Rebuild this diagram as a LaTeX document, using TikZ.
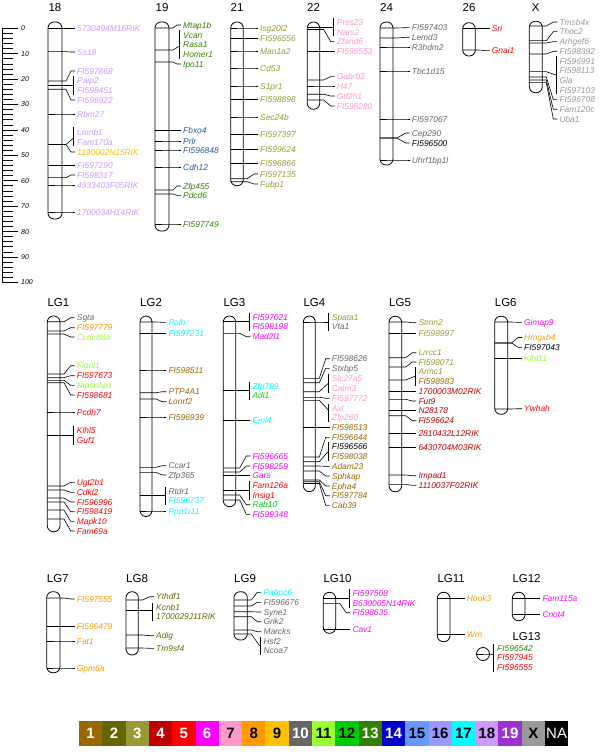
\documentclass[tikz,border=0pt]{standalone}
\usepackage{fontspec}
\setmainfont{Liberation Sans}
\definecolor{c1}{RGB}{153,102,0}
\definecolor{c2}{RGB}{102,102,0}
\definecolor{c3}{RGB}{153,153,51}
\definecolor{c4}{RGB}{192,0,0}
\definecolor{c5}{RGB}{255,0,0}
\definecolor{c6}{RGB}{255,0,255}
\definecolor{c7}{RGB}{255,153,204}
\definecolor{c8}{RGB}{255,153,0}
\definecolor{c9}{RGB}{255,192,0}
\definecolor{c10}{RGB}{102,102,102}
\definecolor{c11}{RGB}{153,255,51}
\definecolor{c12}{RGB}{0,204,0}
\definecolor{c13}{RGB}{51,128,0}
\definecolor{c14}{RGB}{0,0,204}
\definecolor{c15}{RGB}{102,153,255}
\definecolor{c16}{RGB}{153,153,255}
\definecolor{c17}{RGB}{0,255,255}
\definecolor{c18}{RGB}{204,153,255}
\definecolor{c19}{RGB}{153,51,204}
\definecolor{cX}{RGB}{153,153,153}
\definecolor{cNA}{RGB}{0,0,0}
\definecolor{cB}{RGB}{40,90,160}
\newcounter{grp}
\newcommand\setc[3]{\def\cxl{#1}\def\cxr{#2}\def\clx{#3}\pgfmathsetmacro\cbx{#3-3.5}}
\newcommand\mkr[4]{%
 \node[lab,text=#3] (#4) at (\clx,#2) {#4};
 \coordinate (#4-l) at (\cxl,#1);
 \coordinate (#4-r) at (\cxr,#1);
 \draw[mline] (#4-l) -- (#4-r) -- ++(4,0) -- ([xshift=-6pt]#4.west) -- ([xshift=-2pt]#4.west);}
\newcommand\mkg[4]{%
 \stepcounter{grp}%
 \coordinate (g\thegrp-l) at (\cxl,#1);
 \coordinate (g\thegrp-r) at (\cxr,#1);
 \coordinate (g\thegrp-j) at (\cbx,#2);
 \coordinate (g\thegrp-t) at (\cbx,{#3-4.5});
 \coordinate (g\thegrp-b) at (\cbx,{#4+4.5});
 \draw[mline] (g\thegrp-l) -- (g\thegrp-r) -- ++(4,0) -- (g\thegrp-j);
 \draw[mline] (g\thegrp-t) -- (g\thegrp-b);}
\newcommand\glab[3]{\node[lab,text=#2] (#3) at (\clx,#1) {#3};}
\begin{document}
\begin{tikzpicture}[x=1pt,y=-1pt,
 chr/.style={draw=black,line width=0.8pt,rounded corners=6pt,fill=white},
 mline/.style={draw=black,line width=0.6pt},
 sc/.style={draw=black,line width=0.6pt},
 lab/.style={anchor=west,inner sep=0pt,text height=6.1pt,text depth=0pt,font=\fontsize{8.4}{10}\selectfont\itshape},
 ttl/.style={inner sep=0pt,text height=8.3pt,text depth=0pt,font=\fontsize{11.5}{13}\selectfont},
 scl/.style={anchor=west,inner sep=0pt,text height=5pt,text depth=0pt,font=\fontsize{7}{8}\selectfont\itshape},
 legbox/.style={minimum width=23.3pt,minimum height=25pt,inner sep=0pt,font=\fontsize{15}{16}\selectfont\bfseries}]
\useasboundingbox[fill=white] (0,0) rectangle (600,754);
% scale
\draw[sc] (2,28.3) -- (2,282.3);
\foreach \k in {0,...,50} {\draw[sc] (2,{28.3+5.08*\k}) -- (13,{28.3+5.08*\k});}
\foreach \k/\v in {0/0,1/10,2/20,3/30,4/40,5/50,6/60,7/70,8/80,9/90,10/100} {
 \draw[sc] (2,{28.3+25.4*\k}) -- (18,{28.3+25.4*\k});
 \node[scl] (s\k) at (21,{28.3+25.4*\k}) {\v};}
% titles
\node[ttl] (t18) at (55,7.5) {18};
\node[ttl] (t19) at (162,7.5) {19};
\node[ttl] (t21) at (237,7.5) {21};
\node[ttl] (t22) at (313.5,7.5) {22};
\node[ttl] (t24) at (386.5,7.5) {24};
\node[ttl] (t26) at (469,7.5) {26};
\node[ttl] (tX) at (535.8,7.5) {X};
\foreach \n/\x/\y in {LG1/47.3/302.7,LG2/140/302.7,LG3/223.3/302.7,LG4/303.3/302.7,LG5/389/302.7,LG6/494.7/302.7,LG7/46.7/578.3,LG8/126/578.3,LG9/234/578.3,LG10/323.3/578.3,LG11/437.3/578.3,LG12/512.3/578.3,LG13/512.3/636}
 {\node[ttl,anchor=west] (t\n) at (\x,\y) {\n};}
% chromosomes
\draw[chr] (48,22) rectangle (62,219);
\draw[chr] (155,22) rectangle (169,231);
\draw[chr] (230.7,22) rectangle (243.3,185.7);
\draw[chr] (307.3,22) rectangle (319.7,109.3);
\draw[chr] (380,22) rectangle (393,165);
\draw[chr] (462.7,22.7) rectangle (475.3,56);
\draw[chr] (529.3,21.3) rectangle (542.3,92.7);
\draw[chr] (47.3,316) rectangle (60,531.7);
\draw[chr] (140,316) rectangle (152,516.5);
\draw[chr] (223.3,316) rectangle (235.7,506.7);
\draw[chr] (303.3,316) rectangle (315.3,491.7);
\draw[chr] (389,316.3) rectangle (401.7,491.7);
\draw[chr] (494.7,316.3) rectangle (507.7,414.3);
\draw[chr] (46.7,591.7) rectangle (60,672.7);
\draw[chr] (126,591.7) rectangle (138.3,655);
\draw[chr] (234,591.7) rectangle (247.3,640);
\draw[chr] (323.3,592.3) rectangle (335.7,633.3);
\draw[chr] (437.3,592.3) rectangle (450,641.7);
\draw[chr] (512.3,592.3) rectangle (525,620.7);
\draw[chr,rounded corners=0pt] (483,654) circle[radius=6.5pt];
% chr 18
\setc{48}{62}{77}
\mkr{28.3}{28.3}{c18}{5730494M16RIK}
\mkr{51.7}{52}{c18}{Ss18}
\mkr{81}{71}{c18}{FI597868}
\mkg{85.3}{85.3}{80.7}{90.3}\glab{80.7}{c18}{Paip2}\glab{90.3}{c18}{FI598451}
\mkr{89.3}{100}{c18}{FI596922}
\mkr{114}{114}{c18}{Rbm27}
\mkg{144.5}{138}{132}{142}\glab{132}{c18}{Lmnb1}\glab{142}{c18}{Fam170a}
\mkr{144.5}{152}{c9}{1190002N15RIK}
\mkr{165.7}{165.7}{c18}{FI597290}
\mkr{177.7}{175}{c18}{FI598317}
\mkr{185}{185}{c18}{4933403F05RIK}
\mkr{212}{212}{c18}{1700034H14RIK}
% chr 19
\setc{155}{169}{183}
\mkr{28}{25}{c13}{Mtap1b}
\mkg{50}{46}{35}{54.3}\glab{35}{c13}{Vcan}\glab{44.7}{c13}{Rasa1}\glab{54.3}{c13}{Homer1}
\mkr{62}{64}{c13}{Ipo11}
\mkr{130.7}{130.7}{cB}{Fbxo4}
\mkr{141}{141}{cB}{Prlr}
\mkr{150}{150}{cB}{FI596848}
\mkr{167}{167}{cB}{Cdh12}
\mkr{190}{186}{c13}{Zfp455}
\mkr{194}{195.3}{c13}{Pdcd6}
\mkr{224}{224}{c13}{FI597749}
% chr 21
\setc{230.7}{243.3}{260}
\mkr{28}{28}{c3}{Isg20l2}
\mkr{38.7}{38.7}{c3}{FI596556}
\mkr{51}{51}{c3}{Man1a2}
\mkr{68}{68}{c3}{Cd53}
\mkr{86}{86}{c3}{S1pr1}
\mkr{99.7}{99.7}{c3}{FI598898}
\mkr{117}{117}{c3}{Sec24b}
\mkr{134.7}{134.7}{c3}{FI597397}
\mkr{149.7}{149.7}{c3}{FI599624}
\mkr{163.7}{163.7}{c3}{FI596866}
\mkr{178.7}{174}{c3}{FI597135}
\mkr{181.7}{184}{c3}{Fubp1}
% chr 22
\setc{307.3}{319.7}{336.7}
\mkg{27.7}{27.7}{22.7}{32}\glab{22.7}{c7}{Prss23}\glab{32}{c7}{Nars2}
\mkr{29.5}{41.7}{c7}{Zfand6}
\mkr{51.7}{51.7}{c7}{FI598553}
\mkr{80}{76.7}{c7}{Gabrb3}
\mkr{86}{86}{c7}{H47}
\mkr{94.3}{96}{c7}{Gtf2h1}
\mkr{100}{106}{c7}{FI598280}
% chr 24
\setc{380}{393}{411.7}
\mkr{28}{27.7}{c10}{FI597403}
\mkr{38}{37.3}{c10}{Lemd3}
\mkr{47}{47}{c10}{R3hdm2}
\mkr{71}{71}{c10}{Tbc1d15}
\mkr{119}{119}{c10}{FI597067}
\mkr{138}{133}{c10}{Cep290}
\mkr{138}{143}{cNA}{FI596500}
\mkr{160}{160}{c10}{Uhrf1bp1l}
% chr 26
\setc{462.7}{475.3}{491.7}
\mkr{28.7}{28.7}{c5}{Sri}
\mkr{50}{50.7}{c5}{Gnai1}
% chr X
\setc{529.3}{542.3}{559.3}
\mkr{26}{22}{cX}{Tmsb4x}
\mkr{40.7}{31.7}{cX}{Thoc2}
\mkr{43}{41.7}{cX}{Arhgef6}
\mkr{54}{51.3}{cX}{FI598392}
\mkg{71.7}{75}{61}{90}\glab{61}{cX}{FI596991}\glab{70.7}{cX}{FI598113}\glab{80.3}{cX}{Gla}\glab{90}{cX}{FI597103}
\mkr{77}{99.7}{cX}{FI596708}
\mkr{80}{109.3}{cX}{Fam120c}
\mkr{82.7}{119}{cX}{Uba1}
% LG1
\setc{47.3}{60}{76.7}
\mkr{321.7}{317.7}{c10}{Sgta}
\mkr{331}{327.7}{c8}{FI597779}
\mkr{334}{337}{c11}{Ccdc88a}
\mkr{374}{365.7}{c11}{Fignl1}
\mkr{377.7}{375.7}{c5}{FI597673}
\mkr{380.3}{385.3}{c11}{Nipsnap1}
\mkr{382.7}{395}{c5}{FI598681}
\mkr{412}{412}{c5}{Pcdh7}
\mkg{435.7}{435.7}{430}{440}\glab{430}{c5}{Klhl5}\glab{440}{c5}{Guf1}
\mkr{486}{482.3}{c5}{Ugt2b1}
\mkr{490}{492.3}{c5}{Cdkl2}
\mkr{498}{502}{c5}{FI596996}
\mkr{502}{511.7}{c5}{FI598419}
\mkr{510}{521.3}{c5}{Mapk10}
\mkr{519}{531}{c5}{Fam69a}
% LG2
\setc{140}{152}{168.3}
\mkr{322}{322.3}{c17}{Polh}
\mkr{333.7}{333.7}{c17}{FI597231}
\mkr{370}{370}{c1}{FI598511}
\mkr{392.7}{391.7}{c1}{PTP4A1}
\mkr{399}{401.7}{c1}{Lonrf2}
\mkr{417}{417}{c1}{FI596939}
\mkr{467.3}{465.7}{c10}{Ccar1}
\mkr{472.3}{475}{c10}{Zfp365}
\mkg{495.7}{495.7}{491.3}{500.5}\glab{491.3}{c10}{Rtdr1}\glab{500.5}{c17}{FI596737}
\mkr{511}{511}{c17}{Ppp1r11}
% LG3
\setc{223.3}{235.7}{252.3}
\mkg{321.7}{321.7}{317}{326.7}\glab{317}{c6}{FI597021}\glab{326.7}{c6}{FI598198}
\mkr{333.3}{336.7}{c6}{Mad2l1}
\mkg{390.3}{390.3}{386}{395.7}\glab{386}{c17}{Zfp799}\glab{395.7}{c12}{Adi1}
\mkr{420.7}{420.7}{c17}{Eml4}
\mkr{468}{456}{c6}{FI596665}
\mkr{472}{466}{c6}{FI598259}
\mkr{475.7}{475.7}{c6}{Gars}
\mkg{490.3}{490.3}{485.3}{495}\glab{485.3}{c5}{Fam126a}\glab{495}{c5}{Insig1}
\mkr{495}{504.7}{c12}{Rab10}
\mkr{500}{514.3}{c6}{FI599348}
% LG4
\setc{303.3}{315.3}{331.7}
\mkg{322}{322}{317.7}{326.7}\glab{317.7}{c3}{Spata1}\glab{326.7}{c10}{Vta1}
\mkr{378.3}{358.7}{c10}{FI598626}
\mkr{382.7}{368.3}{c10}{Stxbp5}
\mkg{391.7}{383.3}{378.3}{388.3}\glab{378.3}{c7}{Slc27a5}\glab{388.3}{c7}{Calm3}
\mkr{397.3}{398.3}{c7}{FI597772}
\mkg{400.3}{410}{408}{417.7}\glab{408}{c7}{Axl}\glab{417.7}{c7}{Zfp260}
\mkr{427.7}{427.7}{c1}{FI598513}
\mkr{457}{437.3}{c1}{FI596644}
\mkg{461.7}{451.5}{446.7}{456.3}\glab{446.7}{cNA}{FI596566}\glab{456.3}{c1}{FI598038}
\mkr{466}{466.3}{c1}{Adam23}
\mkr{471}{476}{c1}{Sphkap}
\mkr{480}{486}{c1}{Epha4}
\mkr{481.7}{495.7}{c1}{FI597784}
\mkr{483.5}{505.3}{c1}{Cab39}
% LG5
\setc{389}{401.7}{418.3}
\mkr{322}{322.7}{c3}{Stmn2}
\mkr{333.3}{333.3}{c3}{FI598997}
\mkr{357.7}{352.7}{c3}{Lrrcc1}
\mkr{367}{362}{c3}{FI598071}
\mkg{380}{376.3}{371.7}{381}\glab{371.7}{c3}{Armc1}\glab{381}{c1}{FI598983}
\mkr{391.7}{391.7}{c4}{1700003M02RIK}
\mkr{399.3}{401}{c4}{Fut9}
\mkr{410.7}{410.7}{c4}{N28178}
\mkr{415.7}{420.7}{c4}{FI596624}
\mkr{433.7}{433.7}{c4}{2810432L12RIK}
\mkr{447.3}{447.3}{c4}{6430704M03RIK}
\mkr{475}{475.7}{c4}{Impad1}
\mkr{484.3}{485.3}{c4}{1110037F02RIK}
% LG6
\setc{494.7}{507.7}{524}
\mkr{322}{322.3}{c6}{Gimap9}
\mkr{343}{337.5}{c8}{Hmgxb4}
\mkr{343}{347.3}{cNA}{FI597043}
\mkr{358.7}{358.7}{c11}{Klhl11}
\mkr{409}{408.7}{c5}{Ywhah}
% LG7
\setc{46.7}{60}{76.7}
\mkr{598}{599}{c8}{FI597555}
\mkr{626.7}{626.7}{c8}{FI596479}
\mkr{641}{641}{c8}{Fat1}
\mkr{668}{668}{c8}{Gpm6a}
% LG8
\setc{126}{138.3}{156}
\mkr{600}{596.7}{c2}{Ythdf1}
\mkg{610.7}{610.7}{607}{616.7}\glab{607}{c2}{Kcnb1}\glab{616.7}{c2}{1700029J11RIK}
\mkr{635}{635.7}{c2}{Adig}
\mkr{648}{648.3}{c2}{Tm9sf4}
% LG9
\setc{234}{247.3}{263.3}
\mkr{600}{592.3}{c17}{Pabpc6}
\mkr{606}{602.3}{c10}{FI596676}
\mkr{611.7}{612}{c10}{Syne1}
\mkr{616.7}{621.7}{c10}{Grik2}
\mkr{630}{631.7}{c10}{Marcks}
\mkg{634}{646}{641}{650.7}\glab{641}{c10}{Hsf2}\glab{650.7}{c10}{Ncoa7}
% LG10
\setc{323.3}{335.7}{352.3}
\mkg{598.3}{598.3}{593.3}{603}\glab{593.3}{c6}{FI597508}\glab{603}{c6}{B630005N14RIK}
\mkr{603.3}{612.7}{c6}{FI598635}
\mkr{629.3}{629.3}{c6}{Cav1}
% LG11
\setc{437.3}{450}{466.7}
\mkr{598.3}{598.3}{c8}{Hook3}
\mkr{634.7}{634.7}{c8}{Wrn}
% LG12
\setc{512.3}{525}{542.3}
\mkr{598.3}{598.3}{c6}{Fam115a}
\mkr{614.3}{614.3}{c6}{Cnot4}
% LG13
\setc{476.5}{489.5}{497}
\mkg{654}{657}{648}{667}\glab{648}{c13}{FI596542}\glab{657.5}{c5}{FI597945}\glab{667}{c5}{FI596555}
% legend
\foreach \c/\t/\tc [count=\i from 0] in {c1/1/white,c2/2/white,c3/3/white,c4/4/white,c5/5/white,c6/6/white,c7/7/black,c8/8/black,c9/9/black,c10/10/white,c11/11/black,c12/12/black,c13/13/white,c14/14/white,c15/15/black,c16/16/black,c17/17/black,c18/18/black,c19/19/white,cX/X/black}
 {\node[legbox,fill=\c,text=\tc] (leg\i) at ({79+23.3*\i+11.65},733.5) {\t};}
\node[legbox,fill=cNA,text=white,font=\fontsize{15}{16}\selectfont] (legNA) at ({79+23.3*20+11.65},733.5) {NA};
\end{tikzpicture}
\end{document}
